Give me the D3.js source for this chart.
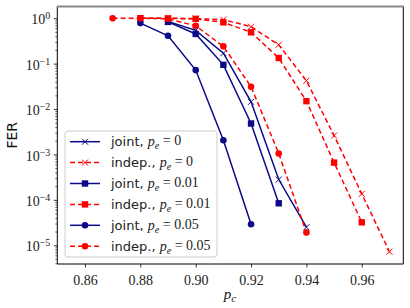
<!DOCTYPE html>
<html><head><meta charset="utf-8">
<script src="https://cdn.jsdelivr.net/npm/d3@7"></script>
<style>body{margin:0;background:#fff}svg{display:block}</style>
</head><body>
<svg id="c" width="410" height="308"></svg>
<script>
const jointPe0X = [0.89, 0.90, 0.91, 0.92, 0.93, 0.94];
const jointPe0Y = [0.85, 0.54, 0.17, 0.0144, 2.8e-4, 2.5e-5];
const indepPe0X = [0.88, 0.89, 0.90, 0.91, 0.92, 0.93, 0.94, 0.95, 0.96, 0.97];
const indepPe0Y = [1.0, 1.0, 0.98, 0.93, 0.65, 0.26, 0.042, 0.0026, 1.35e-4, 7.2e-6];
const jointPe001X = [0.89, 0.90, 0.91, 0.92, 0.93];
const jointPe001Y = [0.83, 0.45, 0.094, 0.0048, 8.4e-5];
const indepPe001X = [0.88, 0.89, 0.90, 0.91, 0.92, 0.93, 0.94, 0.95, 0.96];
const indepPe001Y = [1.0, 0.99, 0.97, 0.81, 0.49, 0.133, 0.0149, 6.6e-4, 3.2e-5];
const jointPe005X = [0.88, 0.89, 0.90, 0.91, 0.92];
const jointPe005Y = [0.78, 0.41, 0.072, 0.00206, 2.9e-5];
const indepPe005X = [0.87, 0.88, 0.89, 0.90, 0.91, 0.92, 0.93, 0.94];
const indepPe005Y = [1.0, 1.0, 0.97, 0.68, 0.24, 0.031, 0.00105, 1.9e-5];
const xTicks = [0.86, 0.88, 0.90, 0.92, 0.94, 0.96];
const yTickExps = [0, -1, -2, -3, -4, -5];

const series = [
  {x: jointPe0X, y: jointPe0Y, color: "#0a0a8a", dash: null, marker: "x", name: "joint, ", val: "0"},
  {x: indepPe0X, y: indepPe0Y, color: "#ff0000", dash: "5,3", marker: "x", name: "indep., ", val: "0"},
  {x: jointPe001X, y: jointPe001Y, color: "#0a0a8a", dash: null, marker: "s", name: "joint, ", val: "0.01"},
  {x: indepPe001X, y: indepPe001Y, color: "#ff0000", dash: "5,3", marker: "s", name: "indep., ", val: "0.01"},
  {x: jointPe005X, y: jointPe005Y, color: "#0a0a8a", dash: null, marker: "o", name: "joint, ", val: "0.05"},
  {x: indepPe005X, y: indepPe005Y, color: "#ff0000", dash: "5,3", marker: "o", name: "indep., ", val: "0.05"}
];

const svg = d3.select("#c");
const L = 57.3, R = 403.3, T = 6.5, B = 264;
const x = d3.scaleLinear().domain([0.85, 0.975]).range([L, R]);
const yMinLog = -5.155 - 0.258, yMaxLog = 0.258;
const y = d3.scaleLog().domain([Math.pow(10, yMinLog), Math.pow(10, yMaxLog)]).range([B, T]);

const serif = "'Liberation Serif', 'DejaVu Serif', serif";
const sans = "'DejaVu Sans', sans-serif";

svg.append("defs").append("clipPath").attr("id", "pc")
  .append("rect").attr("x", L).attr("y", T).attr("width", R - L).attr("height", B - T);

// axes
const xAxis = svg.append("g").attr("transform", `translate(0,${B})`)
  .call(d3.axisBottom(x).tickValues(xTicks).tickSize(3.5).tickFormat(d3.format(".2f")));
xAxis.select(".domain").remove();
xAxis.selectAll("text").attr("font-family", serif).attr("font-size", 14).attr("fill", "#222").attr("dy", "1.0em");
xAxis.selectAll("line").attr("stroke", "#000").attr("stroke-width", 0.8);

const minor = [];
for (let e = -6; e <= 0; e++) for (let m = 2; m <= 9; m++) {
  const v = m * Math.pow(10, e);
  if (Math.log10(v) >= yMinLog && Math.log10(v) <= yMaxLog) minor.push(v);
}
const yMinorAxis = svg.append("g").attr("transform", `translate(${L},0)`)
  .call(d3.axisLeft(y).tickValues(minor).tickSize(2).tickFormat(""));
yMinorAxis.select(".domain").remove();
yMinorAxis.selectAll("line").attr("stroke", "#000").attr("stroke-width", 0.6);

const yAxis = svg.append("g").attr("transform", `translate(${L},0)`)
  .call(d3.axisLeft(y).tickValues(yTickExps.map(e => Math.pow(10, e))).tickSize(3.5).tickFormat(""));
yAxis.select(".domain").remove();
yAxis.selectAll("line").attr("stroke", "#000").attr("stroke-width", 0.8);
yAxis.selectAll(".tick").each(function(d) {
  const e = Math.round(Math.log10(d));
  const t = d3.select(this).append("text").attr("x", -7).attr("y", 0).attr("dy", "0.4em")
    .attr("text-anchor", "end").attr("font-family", serif).attr("font-size", 14).attr("fill", "#222");
  t.append("tspan").text("10");
  t.append("tspan").attr("dy", "-0.5em").attr("font-size", 10).text(e === 0 ? "0" : "\u2212" + (-e));
});

// spines
svg.append("line").attr("x1", L).attr("x2", L).attr("y1", T).attr("y2", B).attr("stroke", "#000").attr("stroke-width", 1);
svg.append("line").attr("x1", L).attr("x2", R).attr("y1", B).attr("y2", B).attr("stroke", "#000").attr("stroke-width", 1);
svg.append("line").attr("x1", R).attr("x2", R).attr("y1", T).attr("y2", B).attr("stroke", "#000").attr("stroke-width", 1);
svg.append("line").attr("x1", L - 0.5).attr("x2", R + 0.5).attr("y1", T).attr("y2", T).attr("stroke", "#888").attr("stroke-width", 2);

function drawMarker(g, type, cx, cy, color) {
  if (type === "x") {
    const s = 3;
    g.append("path").attr("d", `M${cx - s},${cy - s}L${cx + s},${cy + s}M${cx - s},${cy + s}L${cx + s},${cy - s}`)
      .attr("stroke", color).attr("stroke-width", 1).attr("fill", "none");
  } else if (type === "s") {
    g.append("rect").attr("x", cx - 3.2).attr("y", cy - 3.2).attr("width", 6.4).attr("height", 6.4).attr("fill", color);
  } else {
    g.append("circle").attr("cx", cx).attr("cy", cy).attr("r", 3.3).attr("fill", color);
  }
}

const plot = svg.append("g").attr("clip-path", "url(#pc)");
const line = d3.line().x(d => x(d[0])).y(d => y(d[1]));
series.forEach(s => {
  const pts = s.x.map((v, i) => [v, s.y[i]]);
  const g = plot.append("g");
  g.append("path").attr("d", line(pts)).attr("fill", "none").attr("stroke", s.color)
    .attr("stroke-width", 1.5).attr("stroke-dasharray", s.dash);
  pts.forEach(p => drawMarker(g, s.marker, x(p[0]), y(p[1]), s.color));
});

// legend
const lg = svg.append("g");
lg.append("rect").attr("x", 65).attr("y", 131).attr("width", 152).attr("height", 126).attr("rx", 3)
  .attr("fill", "#fff").attr("fill-opacity", 0.85).attr("stroke", "#ccc").attr("stroke-width", 1);
series.forEach((s, i) => {
  const yy = 141.7 + i * 20.9;
  lg.append("line").attr("x1", 70).attr("x2", 100).attr("y1", yy).attr("y2", yy)
    .attr("stroke", s.color).attr("stroke-width", 1.5).attr("stroke-dasharray", s.dash);
  drawMarker(lg, s.marker, 85, yy, s.color);
  const t = lg.append("text").attr("x", 111).attr("y", yy).attr("dy", "0.35em").attr("font-size", 13).attr("fill", "#222");
  t.append("tspan").attr("font-family", sans).text(s.name);
  t.append("tspan").attr("font-family", serif).attr("font-style", "italic").attr("font-size", 14).text("p");
  t.append("tspan").attr("font-family", serif).attr("font-style", "italic").attr("font-size", 10).attr("dy", "0.3em").text("e");
  t.append("tspan").attr("font-family", serif).attr("font-size", 14).attr("dy", "-0.3em").text(" = " + s.val);
});

// axis labels
svg.append("text").attr("transform", `translate(17,${(T + B) / 2}) rotate(-90)`).attr("text-anchor", "middle")
  .attr("font-family", sans).attr("font-size", 14).attr("fill", "#111").text("FER");
const xl = svg.append("text").attr("x", 230).attr("y", 299).attr("text-anchor", "middle")
  .attr("font-family", serif).attr("font-size", 15).attr("fill", "#111");
xl.append("tspan").attr("font-style", "italic").text("p");
xl.append("tspan").attr("font-style", "italic").attr("font-size", 11).attr("dy", "0.3em").text("c");
</script>
</body></html>
